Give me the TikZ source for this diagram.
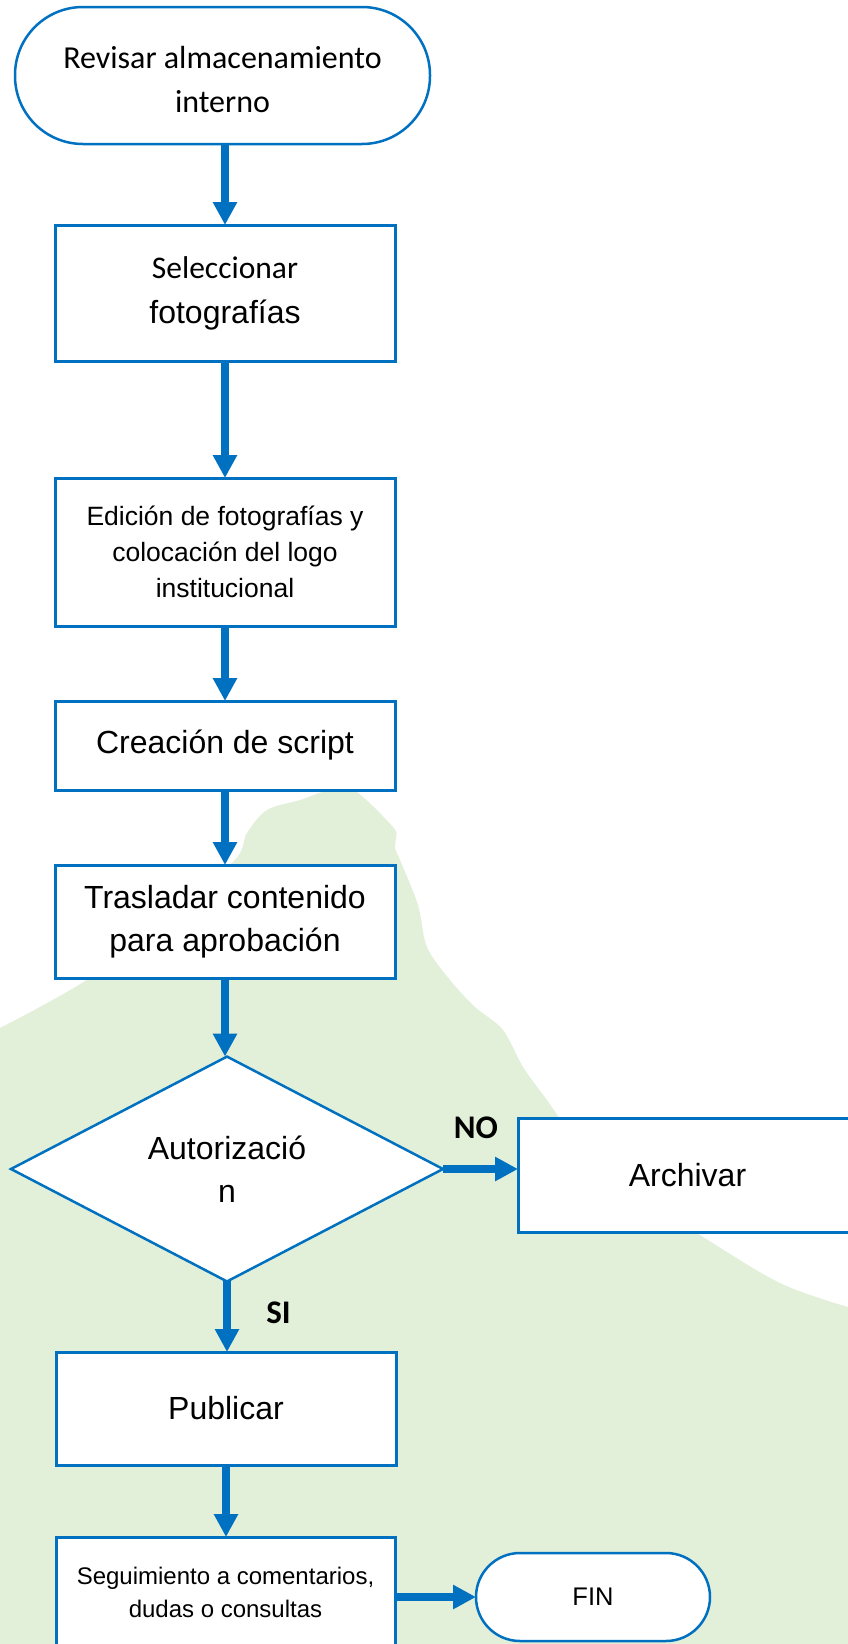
\documentclass[tikz,border=0pt]{standalone}
\usepackage{fontspec}
\setmainfont{Liberation Sans}
\newfontfamily\carl{Carlito}
\usetikzlibrary{arrows.meta,shapes.geometric}
\definecolor{bblue}{HTML}{0070C0}
\definecolor{bgreen}{HTML}{E2F0D9}
\begin{document}
\begin{tikzpicture}[x=1pt,y=-1pt,
  box/.style={rectangle, draw=bblue, line width=3pt, fill=white, minimum width=340pt,
    inner sep=0pt, outer sep=0pt, align=center, font=\fontsize{32}{43}\selectfont},
  term/.style={box, line width=2.5pt},
  dia/.style={diamond, draw=bblue, line width=2.5pt, fill=white, minimum width=432pt,
    minimum height=214pt, inner sep=0pt, outer sep=0pt, align=center,
    font=\fontsize{32}{43}\selectfont},
  lbl/.style={inner sep=0pt, anchor=base, font=\carl\bfseries\fontsize{33}{40}\selectfont},
  arr/.style={draw=bblue, line width=7.5pt, -{Triangle[width=23pt,length=23pt]}}
]
\useasboundingbox (0,0) rectangle (848,1644);
\fill[white] (0,0) rectangle (848,1644);
% green background
\fill[bgreen] plot[smooth, tension=0.55] coordinates {(0,1028) (88,979) (160,920) (233,862)
  (247,833) (267,810) (300,800) (330,790) (355,791) (393,827) (396,838) (395,848) (400,860)
  (418,905) (427,947) (450,980) (475,1007) (503,1030) (523,1067) (547,1100) (600,1170)
  (700,1235) (780,1283) (848,1307)} -- (848,1644) -- (0,1644) -- cycle;

% nodes
\node[term, rounded corners=68pt, minimum width=415pt, minimum height=137pt,
  font=\carl\fontsize{32}{44}\selectfont] (n1) at (222.5,75.5) {\rule{0pt}{31pt}Revisar almacenamiento\\interno};
\node[box, minimum height=136pt, font=\carl\fontsize{31.5}{45}\selectfont] (n2) at (225,293) {Seleccionar\\{\rmfamily\fontsize{32}{45}\selectfont fotograf\'ias}};
\node[box, minimum height=148pt, font=\fontsize{26.5}{36}\selectfont] (n3) at (225,552) {Edici\'on de fotograf\'ias y\\colocaci\'on del logo\\institucional};
\node[box, minimum height=89pt] (n4) at (225,745.5) {Creaci\'on de script};
\node[box, minimum height=113pt] (n5) at (225,921.5) {Trasladar contenido\\para aprobaci\'on};
\node[dia] (d6) at (227,1169) {Autorizaci\'o\\n};
\node[box, minimum width=339pt, minimum height=114pt] (n7) at (687.5,1175) {Archivar};
\node[box, minimum height=113pt] (n8) at (226,1408.5) {Publicar};
\node[box, minimum width=339pt, minimum height=110pt, font=\fontsize{24}{33}\selectfont] (n9) at (225.5,1592) {Seguimiento a comentarios,\\dudas o consultas};
\node[term, rounded corners=44pt, minimum width=234pt, minimum height=88pt,
  font=\fontsize{25.5}{30}\selectfont] (n10) at (593,1597) {FIN};

% labels
\node[lbl] (no) at (476,1138) {NO};
\node[lbl] (si) at (278.5,1323) {SI};

% connectors
\draw[arr] (n1.south -| n2.north) -- (n2.north);
\draw[arr] (n2.south) -- (n3.north);
\draw[arr] (n3.south) -- (n4.north);
\draw[arr] (n4.south) -- (n5.north);
\draw[arr] (n5.south) -- (n5.south |- d6.north);
\draw[arr] (d6.east) -- (d6.east -| n7.west);
\draw[arr] (d6.south) -- (d6.south |- n8.north);
\draw[arr] (n8.south) -- (n8.south |- n9.north);
\draw[arr] (n9.east |- n10.west) -- (n10.west);
\end{tikzpicture}
\end{document}
